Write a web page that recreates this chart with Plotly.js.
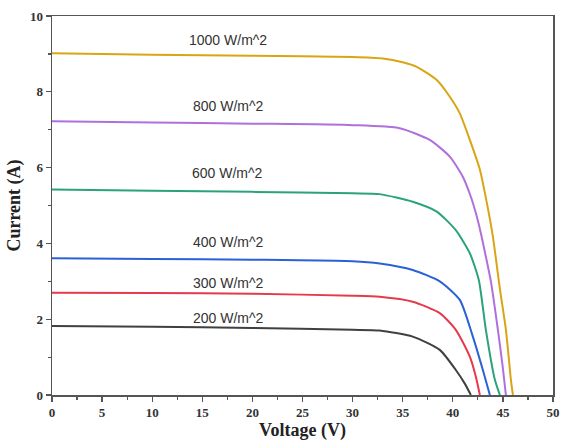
<!DOCTYPE html>
<html>
<head>
<meta charset="utf-8">
<script src="https://cdn.plot.ly/plotly-3.0.1.min.js"></script>
<style>html,body{margin:0;padding:0;background:#fff;}#chart{width:563px;height:441px;}</style>
</head>
<body>
<div id="chart"></div>
<script>
// Data
const seriesNames = ["1000 W/m^2", "800 W/m^2", "600 W/m^2", "400 W/m^2", "300 W/m^2", "200 W/m^2"];

const v1000 = [0, 10, 20, 30, 33, 35, 36.4, 38.4, 39.7, 40.7, 41.7, 42.7, 43.3, 44.0, 44.7, 45.3, 45.8, 46.0];
const i1000 = [9.02, 8.98, 8.95, 8.92, 8.88, 8.78, 8.66, 8.31, 7.87, 7.43, 6.73, 5.95, 5.20, 4.18, 2.8, 1.72, 0.4, 0];

const v800 = [0, 10, 20, 30, 34.7, 37.7, 39.7, 41.0, 41.8, 42.3, 42.8, 43.3, 43.8, 44.5, 45.0, 45.3];
const i800 = [7.22, 7.19, 7.16, 7.12, 7.04, 6.73, 6.29, 5.76, 5.23, 4.80, 4.27, 3.65, 3.0, 1.72, 0.7, 0];

const v600 = [0, 10, 20, 30, 32.7, 36.0, 38.4, 40.3, 41.7, 42.6, 43.3, 44.2, 44.7];
const i600 = [5.42, 5.39, 5.36, 5.32, 5.30, 5.10, 4.84, 4.35, 3.74, 3.03, 1.72, 0.40, 0];

const v400 = [0, 10, 20, 30, 32.7, 36.0, 38.7, 40.7, 42.0, 43.0, 43.7];
const i400 = [3.61, 3.59, 3.57, 3.53, 3.47, 3.30, 3.0, 2.51, 1.54, 0.66, 0];

const v300 = [0, 10, 20, 30, 32.7, 36.0, 38.7, 40.3, 41.7, 42.3, 42.7];
const i300 = [2.70, 2.69, 2.67, 2.62, 2.59, 2.46, 2.16, 1.72, 1.01, 0.48, 0];

const v200 = [0, 10, 20, 30, 32.7, 36.0, 38.7, 40.3, 41.2, 41.8];
const i200 = [1.82, 1.80, 1.77, 1.72, 1.70, 1.54, 1.19, 0.66, 0.3, 0];

// label anchor positions (data coords)
const labelX = [17.6, 17.6, 17.5, 17.6, 17.6, 17.6];
const labelY = [9.37, 7.62, 5.86, 4.04, 2.96, 2.03];

const xs = [v1000, v800, v600, v400, v300, v200];
const ys = [i1000, i800, i600, i400, i300, i200];
const colors = ["#d9a514", "#b070dc", "#2aa37a", "#2a62d6", "#e63a4c", "#404040"];

const traces = xs.map((x, k) => ({
  x: x, y: ys[k], type: "scatter", mode: "lines", name: seriesNames[k],
  line: {color: colors[k], width: 2, shape: "spline", smoothing: 0.6},
  showlegend: false, hoverinfo: "skip"
}));

const annotations = seriesNames.map((t, k) => ({
  x: labelX[k], y: labelY[k], xref: "x", yref: "y", text: t, showarrow: false,
  font: {family: "Liberation Sans, Arial, sans-serif", size: 14, color: "#333"}
}));

const axisFont = {family: "Liberation Serif, Times New Roman, serif", size: 13, color: "#333", weight: "bold"};

const layout = {
  width: 563, height: 441,
  margin: {l: 52, r: 10, t: 16, b: 46},
  paper_bgcolor: "#fff", plot_bgcolor: "#fff",
  showlegend: false,
  annotations: annotations,
  xaxis: {
    range: [0, 50], dtick: 5, tick0: 0,
    showgrid: false, zeroline: false,
    showline: true, linecolor: "#555", linewidth: 1.5, mirror: true,
    ticks: "outside", ticklen: 5, tickwidth: 1.3, tickcolor: "#555",
    minor: {dtick: 2.5, ticks: "outside", ticklen: 3, tickwidth: 1.2, tickcolor: "#555", showgrid: false},
    tickfont: axisFont,
    title: {text: "<b>Voltage (V)</b>", font: {family: "Liberation Serif, Times New Roman, serif", size: 18, color: "#222"}, standoff: 2}
  },
  yaxis: {
    range: [0, 10], dtick: 2, tick0: 0,
    showgrid: false, zeroline: false,
    showline: true, linecolor: "#555", linewidth: 1.5, mirror: true,
    ticks: "outside", ticklen: 5, tickwidth: 1.3, tickcolor: "#555",
    minor: {dtick: 1, ticks: "outside", ticklen: 3, tickwidth: 1.2, tickcolor: "#555", showgrid: false},
    tickfont: axisFont,
    title: {text: "<b>Current (A)</b>", font: {family: "Liberation Serif, Times New Roman, serif", size: 18, color: "#222"}, standoff: 4}
  }
};

Plotly.newPlot("chart", traces, layout, {displayModeBar: false, staticPlot: true});
</script>
</body>
</html>
